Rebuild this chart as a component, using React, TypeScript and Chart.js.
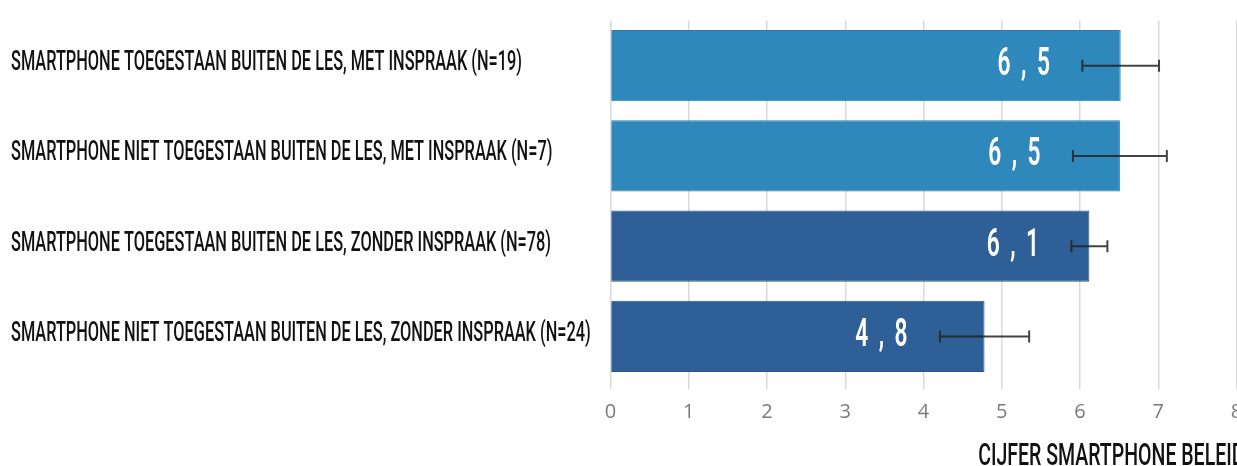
import React, { useEffect, useRef } from "react";
import { Chart, registerables } from "chart.js";

Chart.register(...registerables);

const categories = [
  "SMARTPHONE TOEGESTAAN BUITEN DE LES, MET INSPRAAK (N=19)",
  "SMARTPHONE NIET TOEGESTAAN BUITEN DE LES, MET INSPRAAK (N=7)",
  "SMARTPHONE TOEGESTAAN BUITEN DE LES, ZONDER INSPRAAK (N=78)",
  "SMARTPHONE NIET TOEGESTAAN BUITEN DE LES, ZONDER INSPRAAK (N=24)",
];
const values = [6.52, 6.51, 6.12, 4.78];
const errors = [0.49, 0.6, 0.23, 0.57];
const barColors = ["#2E88BC", "#2E88BC", "#2E5F96", "#2E5F96"];
const barBorders = ["#2A7DB0", "#2A7DB0", "#29578A", "#29578A"];
const xMin = 0;
const xMax = 8;
const axisTitle = "CIJFER SMARTPHONE BELEID";

function drawCondensed(
  ctx: CanvasRenderingContext2D,
  text: string,
  x: number,
  y: number,
  font: string,
  scaleX: number,
  align: "left" | "right",
  color: string,
  spacing = "0px"
) {
  ctx.save();
  ctx.font = font;
  (ctx as any).letterSpacing = spacing;
  ctx.fillStyle = color;
  ctx.textBaseline = "alphabetic";
  ctx.textAlign = "left";
  const w = ctx.measureText(text).width * scaleX;
  const left = align === "right" ? x - w : x;
  ctx.translate(left, y);
  ctx.scale(scaleX, 1);
  ctx.fillText(text, 0, 0);
  ctx.restore();
}

const extrasPlugin = {
  id: "extras",
  afterDatasetsDraw(chart: any) {
    const ctx: CanvasRenderingContext2D = chart.ctx;
    const xs = chart.scales.x;
    const ys = chart.scales.y;
    const meta = chart.getDatasetMeta(0);
    meta.data.forEach((bar: any, i: number) => {
      const y = bar.y;
      const lo = xs.getPixelForValue(values[i] - errors[i]);
      const hi = xs.getPixelForValue(values[i] + errors[i]);
      const label = values[i].toFixed(1).replace(".", " , ");
      drawCondensed(
        ctx,
        label,
        lo - 30,
        y + 9.5,
        '600 38px Roboto, "DejaVu Sans", sans-serif',
        0.6,
        "right",
        "#ffffff",
        "4px"
      );
      ctx.save();
      ctx.strokeStyle = "rgba(35,35,35,0.85)";
      ctx.lineWidth = 2;
      ctx.beginPath();
      ctx.moveTo(lo, y);
      ctx.lineTo(hi, y);
      ctx.moveTo(lo, y - 6);
      ctx.lineTo(lo, y + 6);
      ctx.moveTo(hi, y - 6);
      ctx.lineTo(hi, y + 6);
      ctx.stroke();
      ctx.restore();
    });
    categories.forEach((c, i) => {
      const cy = ys.getPixelForValue(i);
      drawCondensed(
        ctx,
        c,
        11,
        cy + 4.5,
        '500 27px Roboto, "DejaVu Sans", sans-serif',
        0.605,
        "left",
        "#111111"
      );
    });
    drawCondensed(
      ctx,
      axisTitle,
      chart.chartArea.right + 8,
      465,
      '500 31px Roboto, "DejaVu Sans", sans-serif',
      0.63,
      "right",
      "#111111"
    );
  },
};

export default function App() {
  const ref = useRef<HTMLCanvasElement>(null);
  useEffect(() => {
    if (!ref.current) return;
    const chart = new Chart(ref.current, {
      type: "bar",
      data: {
        labels: categories,
        datasets: [
          {
            data: values,
            backgroundColor: barColors,
            borderColor: barBorders,
            borderWidth: 1,
            barPercentage: 0.79,
            categoryPercentage: 1,
          },
        ],
      },
      options: {
        indexAxis: "y",
        animation: false,
        responsive: true,
        maintainAspectRatio: false,
        layout: { padding: { left: 610.5, right: 33.5, top: 20.5, bottom: 0 } },
        plugins: {
          legend: { display: false },
          tooltip: { enabled: false },
        },
        scales: {
          x: {
            min: xMin,
            max: xMax,
            ticks: {
              stepSize: 1,
              color: "#7a7a7a",
              font: { family: '"Open Sans", sans-serif', size: 20 },
              padding: 11,
            },
            grid: {
              color: "#d9d9d9",
              lineWidth: 1.5,
              tickLength: 8,
              tickColor: "#d9d9d9",
            },
            border: { display: false },
            afterFit: (scale: any) => {
              scale.height = 84.5;
            },
          },
          y: {
            display: false,
            grid: { display: false },
          },
        },
      },
      plugins: [extrasPlugin],
    } as any);
    return () => chart.destroy();
  }, []);
  return (
    <div
      style={{
        position: "fixed",
        left: 0,
        top: 0,
        width: 1237,
        height: 466,
        overflow: "hidden",
        background: "#ffffff",
      }}
    >
      <div style={{ position: "relative", width: 1270, height: 466 }}>
        <canvas ref={ref} style={{ display: "block" }} />
      </div>
    </div>
  );
}
